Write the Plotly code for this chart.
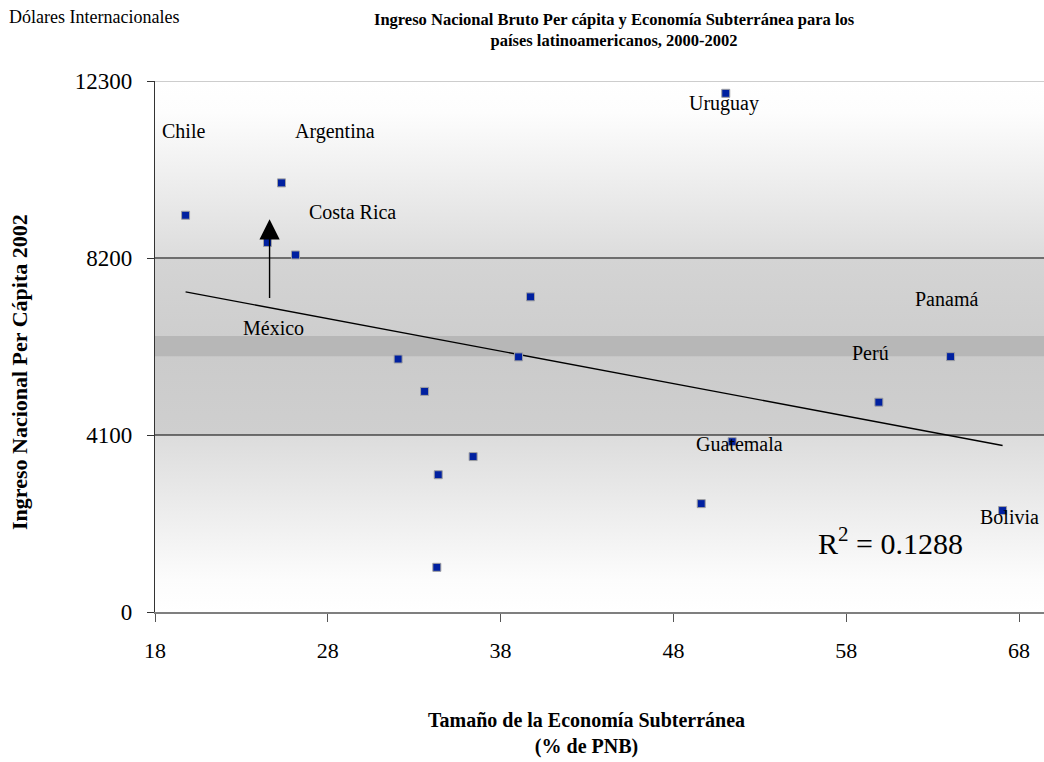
import numpy as np
import plotly.graph_objects as go

# ---------------- data ----------------
economia_subterranea = [19.77, 25.32, 24.51, 26.13, 39.73, 32.07, 39.04, 33.60, 36.41,
                        34.39, 34.31, 49.61, 51.40, 51.03, 59.89, 64.04, 67.05]
ingreso_per_capita = [9190, 9940, 8560, 8270, 7300, 5860, 5910, 5110, 3600,
                      3180, 1035, 2510, 3945, 12015, 4860, 5915, 2350]

x_ticks = [18, 28, 38, 48, 58, 68]
y_ticks = [0, 4100, 8200, 12300]

label_text = ["Chile", "Argentina", "Costa Rica", "México", "Uruguay",
              "Panamá", "Perú", "Guatemala", "Bolivia"]
r2_text = "R<sup>2</sup> = 0.1288"

# ---------------- layout geometry ----------------
W, H = 1044, 762
ML, MR, MT, MB = 155, 0, 81, 150
PX_PER_X = 17.28
x_min = 18
x_max = x_min + (W - ML - MR) / PX_PER_X
y_min, y_max = 0, 12300

SERIF = "Liberation Serif, Times New Roman, serif"

# label positions (data coordinates)
label_pos = [(19.65, 11140), (28.43, 11140), (29.45, 9270), (24.83, 6570),
             (50.91, 11785), (63.79, 7245), (59.38, 5995), (51.83, 3885),
             (67.45, 2210)]

fig = go.Figure()

# gradient background of the plot area
bg_scale = [
    [0.0, "#ffffff"], [0.06, "#fcfcfc"], [0.333, "#dcdcdc"], [0.3336, "#cfcfcf"],
    [0.481, "#cbcbcb"], [0.4816, "#b7b7b7"], [0.520, "#b7b7b7"], [0.5206, "#cecece"],
    [0.665, "#d4d4d4"], [0.6656, "#dcdcdc"], [0.94, "#fdfdfd"], [1.0, "#ffffff"],
]
fig.add_trace(go.Scatter(
    x=[x_min, x_max, x_max, x_min, x_min],
    y=[y_min, y_min, y_max, y_max, y_min],
    mode="lines", fill="toself",
    line=dict(width=0, color="rgba(0,0,0,0)"),
    fillgradient=dict(type="vertical", colorscale=bg_scale),
    hoverinfo="skip", showlegend=False,
))

# horizontal grid lines at inner ticks
gx, gy = [], []
for t in y_ticks[1:-1]:
    gx += [x_min, x_max, None]
    gy += [t, t, None]
fig.add_trace(go.Scatter(x=gx, y=gy, mode="lines",
                         line=dict(color="#000000", width=1.2),
                         hoverinfo="skip", showlegend=False))
# top border of plot area
fig.add_trace(go.Scatter(x=[x_min, x_max], y=[y_ticks[-1], y_ticks[-1]], mode="lines",
                         line=dict(color="#bdbdbd", width=1.5),
                         hoverinfo="skip", showlegend=False, cliponaxis=False))

# linear trend line (least squares)
xs = np.array(economia_subterranea)
ys = np.array(ingreso_per_capita)
slope, intercept = np.polyfit(xs, ys, 1)
tx = np.array([xs.min(), xs.max()])
fig.add_trace(go.Scatter(x=tx, y=slope * tx + intercept, mode="lines",
                         line=dict(color="#000000", width=1.3),
                         hoverinfo="skip", showlegend=False))

# data points
fig.add_trace(go.Scatter(
    x=economia_subterranea, y=ingreso_per_capita, mode="markers",
    marker=dict(symbol="square", size=8, color="#0020a0",
                line=dict(color="#a0a0a0", width=1)),
    showlegend=False,
))

annotations = []
for txt, (lx, ly) in zip(label_text, label_pos):
    annotations.append(dict(x=lx, y=ly, xref="x", yref="y", text=txt, showarrow=False,
                            font=dict(family=SERIF, size=20, color="#000000"),
                            xanchor="center", yanchor="middle"))

# arrow near México
annotations.append(dict(x=24.63, y=9100, ax=24.63, ay=7240, xref="x", yref="y",
                        axref="x", ayref="y", text="", showarrow=True,
                        arrowhead=2, arrowsize=2.9, arrowwidth=1.4, arrowcolor="#000000"))

# R squared
annotations.append(dict(x=60.55, y=1640, xref="x", yref="y", text=r2_text, showarrow=False,
                        font=dict(family=SERIF, size=30, color="#000000"),
                        xanchor="center", yanchor="middle"))


def px_x(p):
    return (p - ML) / (W - ML - MR)


def px_y(p):
    return (H - MB - p) / (H - MT - MB)


annotations += [
    dict(x=px_x(7), y=px_y(17), xref="paper", yref="paper", text="Dólares Internacionales",
         showarrow=False, xanchor="left", yanchor="middle",
         font=dict(family=SERIF, size=18, color="#000000")),
    dict(x=px_x(614), y=px_y(30), xref="paper", yref="paper",
         text="<b>Ingreso Nacional Bruto Per cápita y Economía Subterránea para los<br>"
              "países latinoamericanos, 2000-2002</b>",
         showarrow=False, xanchor="center", yanchor="middle", align="center",
         font=dict(family=SERIF, size=16.5, color="#000000")),
    dict(x=px_x(586), y=px_y(733), xref="paper", yref="paper",
         text="<b>Tamaño de la Economía Subterránea<br>(% de PNB)</b>",
         showarrow=False, xanchor="center", yanchor="middle", align="center",
         font=dict(family=SERIF, size=20, color="#000000")),
    dict(x=px_x(20), y=px_y(372), xref="paper", yref="paper",
         text="<b>Ingreso Nacional Per Cápita 2002</b>", textangle=-90,
         showarrow=False, xanchor="center", yanchor="middle",
         font=dict(family=SERIF, size=22, color="#000000")),
]

fig.update_layout(
    width=W, height=H, autosize=False,
    margin=dict(l=ML, r=MR, t=MT, b=MB, pad=0),
    paper_bgcolor="#ffffff", plot_bgcolor="#ffffff",
    showlegend=False,
    annotations=annotations,
    font=dict(family=SERIF, color="#000000"),
)
fig.update_xaxes(range=[x_min, x_max], tickvals=x_ticks, ticktext=[str(t) for t in x_ticks],
                 showgrid=False, zeroline=False, showline=True, linecolor="#7f7f7f",
                 linewidth=2, ticks="outside", ticklen=8, tickcolor="#555555", tickwidth=1,
                 tickfont=dict(family=SERIF, size=22, color="#000000"),
                 ticklabelstandoff=10)
fig.update_yaxes(range=[y_min, y_max], tickvals=y_ticks, ticktext=[str(t) for t in y_ticks],
                 showgrid=False, zeroline=False, showline=True, linecolor="#333333",
                 linewidth=1.3, ticks="outside", ticklen=7, tickcolor="#333333", tickwidth=1,
                 tickfont=dict(family=SERIF, size=23, color="#000000"),
                 ticklabelstandoff=10)

fig.write_html("out.html")
